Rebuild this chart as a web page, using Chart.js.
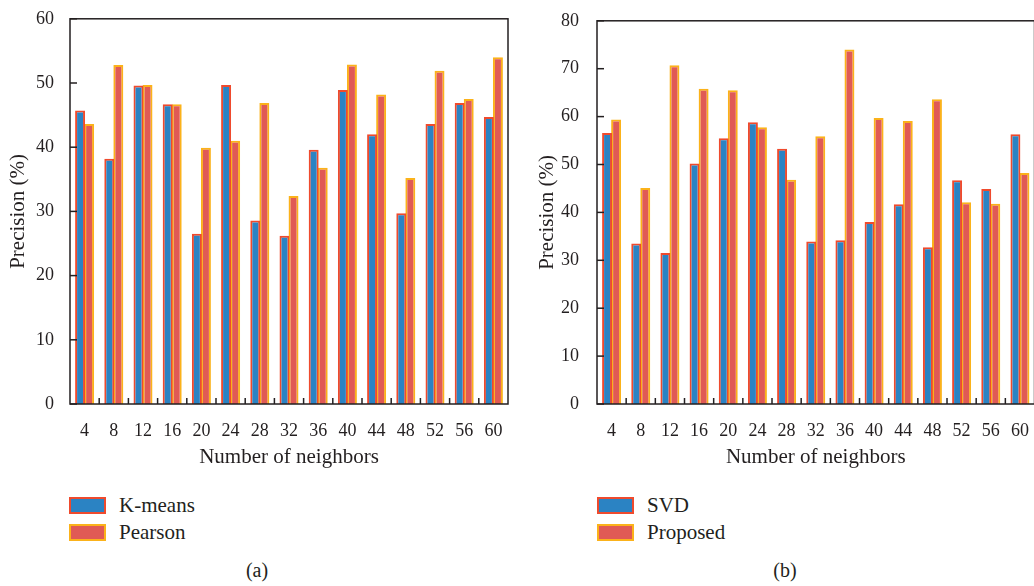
<!DOCTYPE html>
<html>
<head>
<meta charset="utf-8">
<script src="https://cdn.jsdelivr.net/npm/chart.js@4"></script>
<style>
  html, body { margin: 0; padding: 0; background: #fff; overflow: hidden; }
  body { width: 1034px; height: 586px; position: relative; font-family: 'Liberation Serif', serif; color: #231f20; }
  .panel { position: absolute; top: 0; }
  .legend { position: absolute; font-size: 21px; }
  .item { position: absolute; white-space: nowrap; }
  .box { position: absolute; width: 33px; height: 13px; border: 2px solid; }
  .item span { position: absolute; left: 50px; top: -4px; line-height: 25px; }
  .cap { position: absolute; top: 559px; font-size: 20px; transform: translateX(-50%); }
</style>
</head>
<body>
<div class="panel" style="left:0;width:517px;height:470px"><canvas id="chartA" width="517" height="470"></canvas></div>
<div class="panel" style="left:517px;width:520px;height:470px"><canvas id="chartB" width="520" height="470"></canvas></div>

<div class="legend" style="left:69px;top:497px">
  <div class="item" style="top:0"><div class="box" style="background:#2b83c3;border-color:#ef4a2d"></div><span>K-means</span></div>
  <div class="item" style="top:27px"><div class="box" style="background:#e05a55;border-color:#fbb21a"></div><span>Pearson</span></div>
</div>
<div class="legend" style="left:597px;top:497px">
  <div class="item" style="top:0"><div class="box" style="background:#2b83c3;border-color:#ef4a2d"></div><span>SVD</span></div>
  <div class="item" style="top:27px"><div class="box" style="background:#e05a55;border-color:#fbb21a"></div><span>Proposed</span></div>
</div>
<div class="cap" style="left:257px">(a)</div>
<div class="cap" style="left:785px">(b)</div>

<script>
// --- data ---
const neighbors = ['4', '8', '12', '16', '20', '24', '28', '32', '36', '40', '44', '48', '52', '56', '60'];

const kmeans  = [45.7, 38.2, 49.6, 46.7, 26.5, 49.7, 28.6, 26.2, 39.6, 48.9, 42.0, 29.7, 43.6, 46.9, 44.7];
const pearson = [43.6, 52.8, 49.7, 46.7, 39.9, 41.0, 46.9, 32.4, 36.8, 52.9, 48.2, 35.2, 51.9, 47.5, 54.0];

const svd      = [56.6, 33.5, 31.5, 50.2, 55.5, 58.8, 53.3, 33.9, 34.2, 38.0, 41.7, 32.7, 46.7, 44.9, 56.3];
const proposed = [59.4, 45.1, 70.7, 65.8, 65.5, 57.8, 46.8, 55.9, 74.0, 59.7, 59.1, 63.6, 42.1, 41.8, 48.2];

const ticksA = [0, 10, 20, 30, 40, 50, 60];
const ticksB = [0, 10, 20, 30, 40, 50, 60, 70, 80];

const FONT = 'Liberation Serif';
const INK = '#231f20';

// frame box + inward tick marks
const framePlugin = {
  id: 'frame',
  afterDraw(chart) {
    const { ctx, chartArea: a, scales } = chart;
    const line = (x1, y1, x2, y2) => { ctx.beginPath(); ctx.moveTo(x1, y1); ctx.lineTo(x2, y2); ctx.stroke(); };
    ctx.save();
    ctx.strokeStyle = INK;
    ctx.lineWidth = 1.5;
    ctx.strokeRect(a.left, a.top, a.right - a.left, a.bottom - a.top);
    scales.y.ticks.forEach(t => {
      const y = scales.y.getPixelForValue(t.value);
      line(a.left, y, a.left + 7, y);
    });
    const n = scales.x.ticks.length;
    for (let i = 1; i < n; i++) {
      const x = (scales.x.getPixelForValue(i - 1) + scales.x.getPixelForValue(i)) / 2;
      line(x, a.bottom, x, a.bottom - 6);
    }
    ctx.restore();
  }
};

function makeChart(id, labelA, dataA, labelB, dataB, yTicks, cfg) {
  const yMax = yTicks[yTicks.length - 1];
  return new Chart(document.getElementById(id), {
    type: 'bar',
    data: {
      labels: neighbors,
      datasets: [
        { label: labelA, data: dataA, backgroundColor: '#2b83c3', borderColor: '#ef4a2d', borderWidth: 2 },
        { label: labelB, data: dataB, backgroundColor: '#e05a55', borderColor: '#fbb21a', borderWidth: 2 }
      ]
    },
    options: {
      responsive: false,
      animation: false,
      devicePixelRatio: 1,
      layout: { padding: { top: 16, right: cfg.padRight, left: 0, bottom: 0 } },
      datasets: { bar: { categoryPercentage: 0.62, barPercentage: 1.1 } },
      plugins: { legend: { display: false }, tooltip: { enabled: false } },
      scales: {
        x: {
          grid: { display: false },
          border: { display: false },
          ticks: { color: INK, font: { family: FONT, size: 18 }, padding: 8, maxRotation: 0, autoSkip: false },
          title: { display: true, text: 'Number of neighbors', color: INK, font: { family: FONT, size: 21 }, padding: { top: 0, bottom: 0 } },
          afterFit: s => { s.height = 66; }
        },
        y: {
          min: 0, max: yMax,
          grid: { display: false },
          border: { display: false },
          afterBuildTicks: s => { s.ticks = yTicks.map(v => ({ value: v })); },
          ticks: { color: INK, font: { family: FONT, size: 18 }, padding: cfg.tickPad },
          title: { display: true, text: 'Precision (%)', color: INK, font: { family: FONT, size: 21 }, padding: { top: cfg.titlePad, bottom: 0 } },
          afterFit: s => { s.width = cfg.yWidth; }
        }
      }
    },
    plugins: [framePlugin]
  });
}

makeChart('chartA', 'K-means', kmeans, 'Pearson', pearson, ticksA, { padRight: 9, yWidth: 70, tickPad: 8, titlePad: 6 });
makeChart('chartB', 'SVD', svd, 'Proposed', proposed, ticksB, { padRight: 2, yWidth: 80, tickPad: 10, titlePad: 18 });
</script>
</body>
</html>
